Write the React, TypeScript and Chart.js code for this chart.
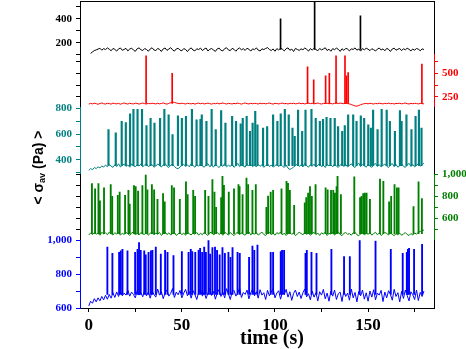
import React, { useEffect, useRef } from 'react';
import { Chart, registerables } from 'chart.js';

Chart.register(...registerables);

// ---------- data ----------
const xTickValues = [0, 25, 50, 75, 100, 125, 150, 175];
const xTickLabels = [0, 50, 100, 150];

// black panel, samples every 1 s from t = 1
const blackStart = 1;
const blackValues = [
  112,124,136,141,148,155,139,152,144,158,147,134,153,146,131,150,157,138,145,154,133,148,156,140,129,151,158,143,136,152,
  145,130,149,159,141,135,153,146,128,150,157,137,148,160,142,131,149,155,139,134,152,145,127,147,158,140,133,151,144,156,
  136,148,157,132,146,153,140,129,150,156,138,133,152,159,141,135,154,146,130,149,157,142,151,137,155,147,131,150,143,158,
  139,132,150,144,153,160,145,136,149,130,152,141,156,147,133,151,158,138,148,128,154,145,137,150,142,157,146,131,152,140,
  155,144,134,153,141,149,159,136,147,130,152,143,156,146,129,151,137,154,148,133,150,145,158,139,149,131,152,142,155,147,
  135,151,143,132,148,157,140,150,134,154,146,128,149,156,138,147,153,135,151,142,155,146,133,148,139,153,147,134,150,144,
];
const blackSpikeT = [103.0, 121.3, 145.9];
const blackSpikeV = [400, 640, 425];
const blackBase = 145;

// red panel, samples every 1 s from t = 0
const redStart = 0;
const redValues = [
  170,178,172,180,175,168,177,182,174,171,179,176,170,181,175,173,178,169,176,183,174,171,179,175,172,180,177,170,176,182,
  175,171,178,174,180,176,172,179,173,177,183,175,170,178,185,192,188,182,178,174,180,176,171,179,175,173,178,170,177,181,
  174,179,172,176,181,175,170,178,174,180,173,177,182,176,171,179,175,172,178,174,181,176,170,177,183,175,172,179,174,178,
  176,171,180,174,178,173,177,182,175,170,179,176,172,178,181,174,177,171,179,175,180,173,176,182,174,178,172,177,181,175,
  179,173,177,182,175,171,178,176,180,174,177,172,179,183,176,181,178,174,180,176,172,165,158,150,148,155,163,170,175,178,
  173,179,175,171,178,174,180,176,172,179,175,181,174,177,171,178,176,180,173,177,182,175,171,178,174,179,176,172,178,175,173,
];
const redSpikeT = [30.8, 44.8, 117.5, 120.8, 127.2, 129.2, 132.8, 137.6, 138.4, 139.3, 178.9];
const redSpikeV = [690, 500, 572, 430, 475, 500, 690, 690, 475, 510, 600];
const redBase = 177;

// teal panel
const tealStart = 0;
const tealValues = [
  318,332,324,340,333,346,338,352,344,360,347,365,350,342,362,348,370,345,358,366,349,361,343,368,354,347,363,352,369,346,
  360,371,348,356,364,343,352,368,357,345,362,373,350,341,358,367,348,336,332,344,357,366,349,361,346,370,355,343,363,351,
  368,352,343,360,371,347,357,344,366,353,340,362,350,372,346,359,349,367,342,356,373,348,361,351,344,369,354,364,347,360,
  345,366,350,362,342,357,371,348,360,344,354,368,347,363,352,341,360,336,326,333,344,356,367,349,361,345,372,355,343,362,
  350,367,344,359,373,347,357,341,369,353,362,346,368,351,342,360,371,348,364,345,356,370,350,341,362,374,347,363,354,343,
  366,350,342,361,372,348,363,345,357,368,351,341,362,371,347,364,343,355,369,350,342,361,373,348,364,346,357,370,351,362,376,
];
const tealSpikeT = [10.6,14.5,17.7,19.9,22.2,24.0,26.2,28.6,31.0,33.2,35.3,38.3,40.6,42.9,45.0,47.9,50.0,52.2,55.4,57.9,60.0,60.7,63.2,66.0,68.2,71.1,73.4,77.0,79.1,81.6,82.7,84.8,86.6,88.0,89.4,90.6,93.6,95.8,99.0,101.3,103.1,105.3,107.4,109.4,110.6,112.4,114.6,116.4,119.6,121.9,124.1,125.8,127.7,129.8,132.1,133.9,136.1,137.5,139.3,142.0,143.8,146.1,147.9,150.1,151.5,152.7,155.1,157.3,160.0,161.7,164.4,167.1,168.0,170.6,173.3,175.5,177.3,178.7];
const tealSpikeV = [634,609,698,690,757,792,792,792,665,723,685,723,792,749,596,741,723,738,792,711,715,749,698,792,634,782,685,738,698,680,723,738,621,685,777,672,647,659,749,698,757,792,749,647,583,787,621,787,792,723,698,715,730,723,723,659,621,665,749,749,698,741,723,672,647,787,634,792,787,698,621,782,698,749,634,738,787,647];
const tealBase = 355;

// green panel
const greenStart = 0;
const greenValues = [
  448,466,452,470,456,463,445,472,458,468,450,474,461,447,469,455,473,446,464,452,471,459,444,467,475,450,462,448,470,457,
  453,469,446,463,474,449,465,455,471,444,460,476,451,467,447,462,472,443,458,470,450,466,445,473,459,448,468,454,471,446,
  464,450,472,456,443,467,475,449,461,471,452,466,445,474,460,447,469,455,442,462,473,450,467,454,446,465,476,449,463,456,
  470,447,461,474,452,444,466,472,451,463,446,469,457,476,448,465,443,460,471,453,467,441,458,473,462,449,470,454,466,445,
  461,472,451,465,444,468,455,475,443,462,457,471,447,464,476,452,442,463,470,454,460,446,466,473,450,441,458,469,448,463,
  455,470,446,461,472,450,466,443,458,471,462,448,467,454,441,460,449,465,445,457,470,452,443,461,447,466,456,472,480,496,490,
];
const greenSpikeT = [1.7,3.4,5.2,6.0,8.2,11.8,12.6,15.6,16.6,19.5,21.3,22.0,24.3,25.2,26.5,28.8,30.6,31.5,33.9,35.1,36.9,39.9,40.8,44.6,45.8,48.9,52.2,53.1,56.1,57.1,62.5,64.3,66.4,67.5,68.4,71.1,71.8,72.6,75.2,78.0,80.4,81.0,82.6,84.7,85.6,87.9,89.7,95.4,96.3,97.7,99.0,103.5,106.2,107.0,108.0,110.3,116.0,116.8,117.8,118.8,119.8,121.8,127.2,128.3,130.1,131.3,132.2,133.1,133.6,135.4,142.6,145.7,146.5,147.4,148.3,149.2,151.0,156.4,158.2,161.3,162.4,164.2,165.5,166.4,174.4,177.1,178.9];
const greenSpikeV = [917,869,917,760,878,908,800,809,839,809,856,730,899,890,848,899,997,860,908,860,773,826,750,899,878,773,932,817,856,800,856,800,952,838,700,790,982,900,839,869,908,890,817,967,908,856,908,699,803,839,856,869,937,920,856,719,740,790,830,890,800,908,878,860,856,856,830,890,982,817,978,790,800,826,830,830,773,958,937,750,800,908,878,878,706,932,780];
const greenBase = 460;

// blue panel
const blueStart = 0;
const blueValues = [
  612,640,628,655,636,660,642,668,648,675,652,680,658,690,662,695,668,700,672,688,676,705,670,694,680,660,702,676,690,666,
  708,672,694,658,700,680,664,712,676,696,655,690,706,670,686,715,662,694,678,704,660,688,710,672,696,658,702,680,650,692,
  712,670,694,656,688,716,674,698,652,690,708,668,694,660,714,684,650,696,704,670,688,718,662,692,680,706,654,690,712,672,
  696,658,708,676,690,650,704,672,694,714,660,688,702,652,692,680,710,664,696,645,686,706,668,694,656,690,712,666,684,648,
  700,664,690,642,696,676,710,654,688,640,698,670,706,650,684,694,638,702,668,688,646,712,660,692,636,698,672,706,652,690,
  640,700,664,708,648,688,676,704,638,694,660,702,680,646,710,668,690,636,698,656,706,674,642,696,678,650,706,644,692,668,700,
];
const blueSpikeT = [10.0,12.7,16.3,17.2,18.1,20.8,24.9,26.2,27.0,27.9,29.8,30.6,32.1,33.4,34.2,36.0,38.7,41.0,42.3,45.5,50.0,53.6,54.8,55.6,57.2,59.0,59.8,60.9,62.0,62.9,64.3,65.2,66.4,67.8,68.9,70.3,71.8,73.1,75.0,76.1,77.2,79.9,81.1,86.1,87.9,88.9,90.6,97.7,99.0,103.1,103.8,104.9,116.4,117.1,119.6,122.3,130.3,137.1,140.2,145.5,154.0,162.2,168.6,170.8,171.4,172.0,174.7,179.0];
const blueSpikeV = [960,922,928,937,946,937,928,946,986,940,937,914,928,937,940,960,918,940,928,909,933,928,946,933,928,940,952,928,960,928,999,918,956,960,940,914,956,922,928,899,956,928,922,899,966,940,972,928,928,933,940,940,922,940,928,922,946,903,903,999,995,946,922,928,946,952,946,976];
const blueBase = 680;

// tick values / labels for the panel axes
const blackTicks = [100, 200, 300, 400, 500];
const blackLabels = [200, 400];
const redTicks = [250, 375, 500, 625];
const redLabels = [250, 500];
const tealTicks = [300, 400, 500, 600, 700, 800];
const tealLabels = [400, 600, 800];
const greenTicks = [500, 600, 700, 800, 900, 1000];
const greenLabels = [600, 800, 1000];
const blueTicks = [600, 700, 800, 900, 1000];
const blueLabels = [600, 800, 1000];

const X_TITLE = 'time (s)';
const Y_TITLE_MAIN = '< σ';
const Y_TITLE_SUB = 'av';
const Y_TITLE_END = ' (Pa) >';

// ---------- styles ----------
const SERIF = '"Liberation Serif", "Times New Roman", serif';
const SANS = '"Liberation Sans", Arial, sans-serif';
const BLACK = '#000000';
const RED = '#ff0000';
const TEAL = '#008080';
const GREEN = '#008000';
const BLUE = '#0000ff';

function linePoints(values: number[], t0: number) {
  return values.map((v, i) => ({ x: t0 + i, y: v }));
}
function spikeBars(times: number[], peaks: number[], base: number) {
  return times.map((t, i) => ({ x: t, y: [base, peaks[i]] }));
}

function panelAxis(c: any) {
  return {
    type: 'linear',
    position: c.position,
    stack: 'panels',
    stackWeight: c.share,
    weight: c.order,
    stacked: false,
    offset: false,
    min: c.min,
    max: c.max,
    afterBuildTicks: (s: any) => {
      s.ticks = c.ticks.map((v: number) => ({ value: v }));
    },
    afterFit: (s: any) => {
      s.width = c.position === 'left' ? 36 : 32;
      s.paddingTop = 0;
      s.paddingBottom = 0;
    },
    ticks: {
      autoSkip: false,
      color: c.color,
      padding: 4,
      font: { family: SERIF, size: 11, weight: 'bold' },
      callback: (v: number) => (c.labels.includes(v) ? v.toLocaleString('en-US') : ''),
    },
    grid: { drawOnChartArea: false, drawTicks: c.marks, tickLength: 4, color: c.color, lineWidth: 1, offset: false },
    border: { display: true, color: c.color, width: 1 },
  };
}

const titlesPlugin = {
  id: 'titles',
  afterDraw(chart: any) {
    const { ctx, chartArea } = chart;
    ctx.save();
    ctx.fillStyle = '#000';
    ctx.font = `bold 20px ${SERIF}`;
    ctx.textAlign = 'center';
    ctx.textBaseline = 'alphabetic';
    ctx.fillText(X_TITLE, (chartArea.left + chartArea.right) / 2 + 15, chartArea.bottom + 36);

    ctx.translate(chartArea.left - 41, (chartArea.top + chartArea.bottom) / 2 + 13);
    ctx.rotate(-Math.PI / 2);
    const big = `bold 14px ${SANS}`;
    const small = `bold 9px ${SANS}`;
    ctx.font = big;
    const w1 = ctx.measureText(Y_TITLE_MAIN).width;
    const w3 = ctx.measureText(Y_TITLE_END).width;
    ctx.font = small;
    const w2 = ctx.measureText(Y_TITLE_SUB).width;
    let x = -(w1 + w2 + w3) / 2;
    ctx.textAlign = 'left';
    ctx.textBaseline = 'middle';
    ctx.font = big;
    ctx.fillText(Y_TITLE_MAIN, x, 0);
    x += w1;
    ctx.font = small;
    ctx.fillText(Y_TITLE_SUB, x, 4);
    x += w2;
    ctx.font = big;
    ctx.fillText(Y_TITLE_END, x, 0);
    ctx.restore();
  },
};

export default function App() {
  const ref = useRef<HTMLCanvasElement>(null);

  useEffect(() => {
    const lineDs = (values: number[], t0: number, color: string, axis: string) => ({
      type: 'line',
      data: linePoints(values, t0),
      borderColor: color,
      borderWidth: 1,
      pointRadius: 0,
      tension: 0,
      yAxisID: axis,
    });
    const barDs = (ts: number[], vs: number[], base: number, color: string, axis: string, w: number) => ({
      type: 'bar',
      data: spikeBars(ts, vs, base),
      backgroundColor: color,
      borderWidth: 0,
      barThickness: w,
      stack: 'spikes',
      yAxisID: axis,
    });

    const xMin = -4.7;
    const xMax = 185.4;

    const chart = new Chart(ref.current as HTMLCanvasElement, {
      type: 'line',
      data: {
        datasets: [
          lineDs(blackValues, blackStart, BLACK, 'yK'),
          barDs(blackSpikeT, blackSpikeV, blackBase, BLACK, 'yK', 1),
          lineDs(redValues, redStart, RED, 'yR'),
          barDs(redSpikeT, redSpikeV, redBase, RED, 'yR', 1),
          lineDs(tealValues, tealStart, TEAL, 'yT'),
          barDs(tealSpikeT, tealSpikeV, tealBase, TEAL, 'yT', 1.5),
          lineDs(greenValues, greenStart, GREEN, 'yG'),
          barDs(greenSpikeT, greenSpikeV, greenBase, GREEN, 'yG', 1.2),
          lineDs(blueValues, blueStart, BLUE, 'yB'),
          barDs(blueSpikeT, blueSpikeV, blueBase, BLUE, 'yB', 1.2),
        ] as any,
      },
      options: {
        animation: false,
        responsive: false,
        devicePixelRatio: 1,
        layout: { padding: { left: 44, right: 0, top: 1, bottom: 0 } },
        plugins: { legend: { display: false }, tooltip: { enabled: false } },
        scales: {
          x: {
            type: 'linear',
            position: 'bottom',
            offset: false,
            min: xMin,
            max: xMax,
            afterBuildTicks: (s: any) => {
              s.ticks = xTickValues.map((v) => ({ value: v }));
            },
            afterFit: (s: any) => {
              s.height = 41;
              s.paddingLeft = 0;
              s.paddingRight = 0;
            },
            ticks: {
              autoSkip: false,
              maxRotation: 0,
              color: BLACK,
              padding: 3,
              font: { family: SERIF, size: 17, weight: 'bold' },
              callback: (v: number) => (xTickLabels.includes(v) ? String(v) : ''),
            },
            grid: { drawOnChartArea: false, tickLength: 4, color: BLACK, offset: false },
            border: { display: true, color: BLACK, width: 1 },
          },
          xTop: {
            type: 'linear',
            position: 'top',
            offset: false,
            min: xMin,
            max: xMax,
            afterBuildTicks: (s: any) => {
              s.ticks = xTickValues.map((v) => ({ value: v }));
            },
            afterFit: (s: any) => {
              s.height = 0;
              s.paddingLeft = 0;
              s.paddingRight = 0;
            },
            ticks: { display: false },
            grid: { drawOnChartArea: false, drawTicks: false, offset: false },
            border: { display: true, color: BLACK, width: 1 },
          },
          // left side (top to bottom: descending order weight)
          yK: panelAxis({ position: 'left', order: 5, share: 54, min: 100, max: 550, ticks: blackTicks, labels: blackLabels, color: BLACK, marks: true }),
          yRL: panelAxis({ position: 'left', order: 4, share: 53, min: 132, max: 700, ticks: redTicks, labels: [], color: BLACK, marks: true }),
          yT: panelAxis({ position: 'left', order: 3, share: 67, min: 287, max: 805, ticks: tealTicks, labels: tealLabels, color: TEAL, marks: true }),
          yGL: panelAxis({ position: 'left', order: 2, share: 66, min: 400, max: 1000, ticks: greenTicks, labels: [], color: BLACK, marks: true }),
          yB: panelAxis({ position: 'left', order: 1, share: 68, min: 600, max: 1000, ticks: blueTicks, labels: blueLabels, color: BLUE, marks: true }),
          // right side (top to bottom: ascending order weight)
          yKR: panelAxis({ position: 'right', order: 1, share: 54, min: 100, max: 550, ticks: blackTicks, labels: [], color: BLACK, marks: false }),
          yR: panelAxis({ position: 'right', order: 2, share: 53, min: 132, max: 700, ticks: redTicks, labels: redLabels, color: RED, marks: true }),
          yTR: panelAxis({ position: 'right', order: 3, share: 67, min: 287, max: 805, ticks: tealTicks, labels: [], color: BLACK, marks: false }),
          yG: panelAxis({ position: 'right', order: 4, share: 66, min: 400, max: 1000, ticks: greenTicks, labels: greenLabels, color: GREEN, marks: true }),
          yBR: panelAxis({ position: 'right', order: 5, share: 68, min: 600, max: 1000, ticks: blueTicks, labels: [], color: BLACK, marks: false }),
        } as any,
      },
      plugins: [titlesPlugin],
    } as any);

    return () => chart.destroy();
  }, []);

  return (
    <div style={{ position: 'fixed', left: 0, top: 0, width: 466, height: 349, background: '#ffffff' }}>
      <canvas ref={ref} width={466} height={349} style={{ display: 'block', width: 466, height: 349 }} />
    </div>
  );
}
